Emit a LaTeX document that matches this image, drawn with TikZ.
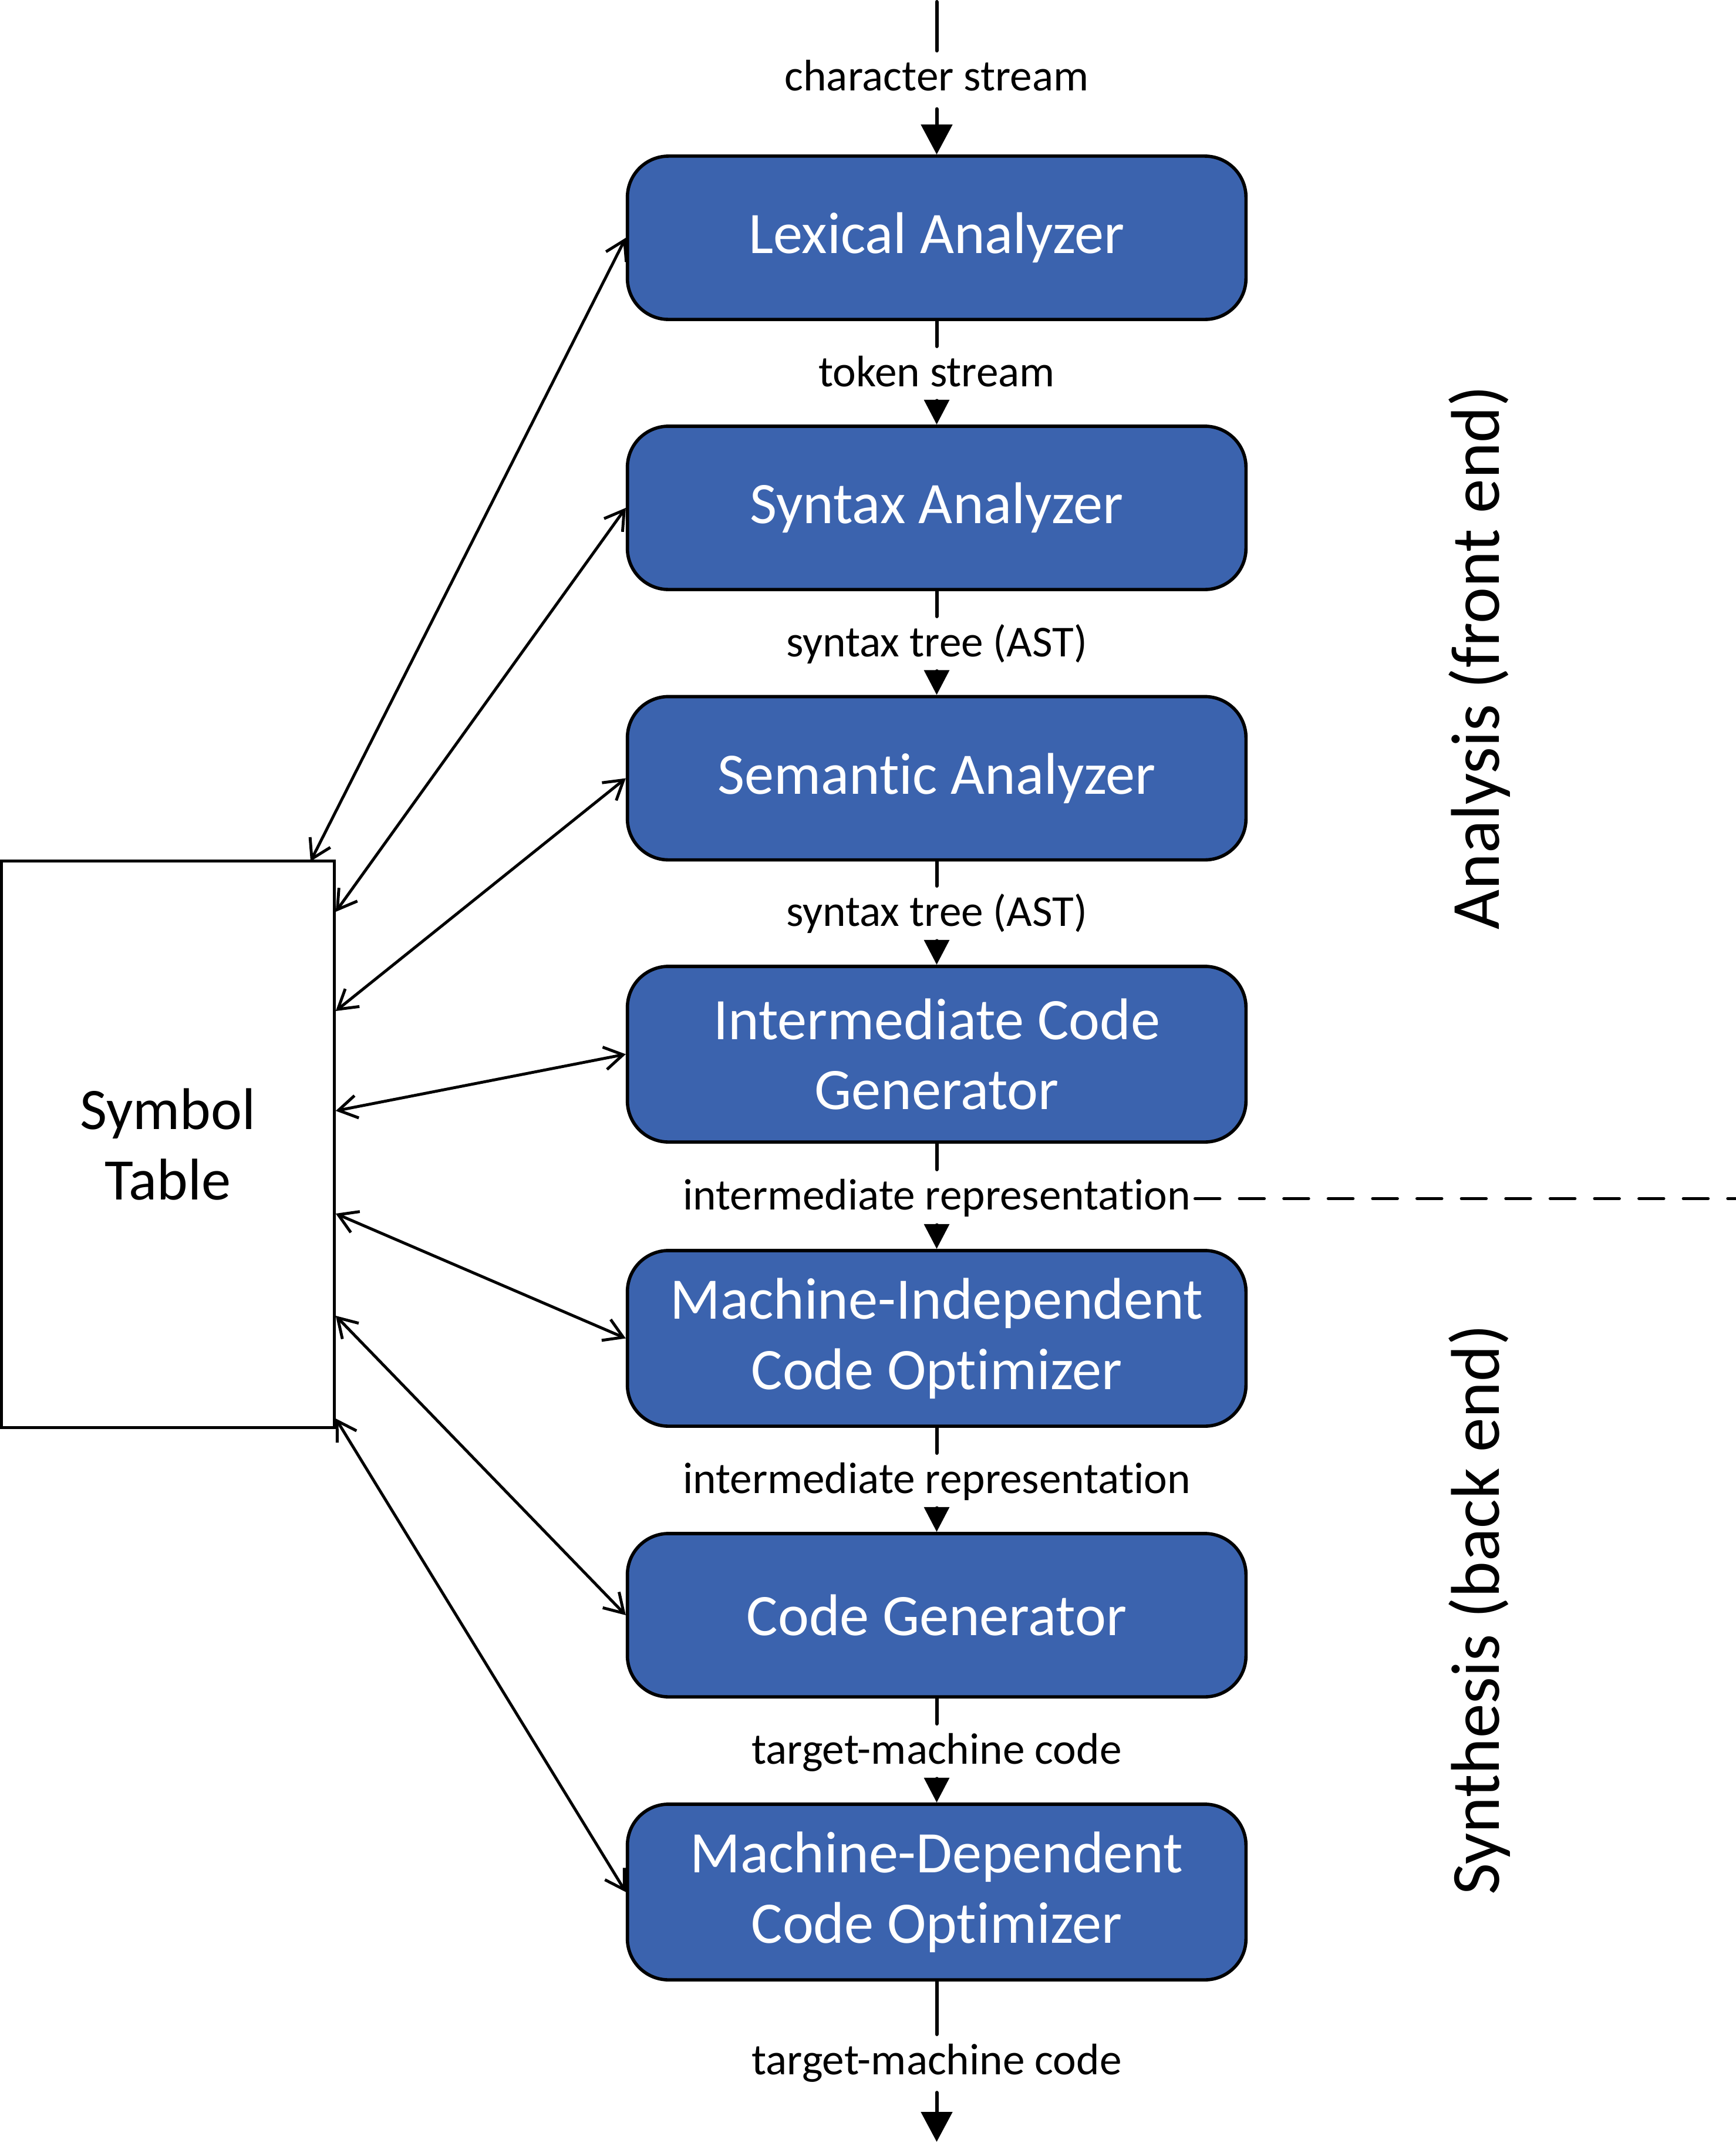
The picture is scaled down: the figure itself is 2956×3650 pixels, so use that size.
\documentclass[tikz,border=0pt]{standalone}
\usepackage{fontspec}
\setmainfont{Carlito}[Ligatures=NoCommon]
\usetikzlibrary{arrows.meta}
\definecolor{stageblue}{RGB}{59,99,174}

\begin{document}
\begin{tikzpicture}[x=0.01cm, y=-0.01cm, line cap=round,
    stage/.style={draw, line width=1.6pt, fill=stageblue, rounded corners=0.7cm,
        minimum width=10.53cm, minimum height=2.78cm, text=white, align=center,
        font=\fontsize{28.5pt}{34pt}\selectfont},
    stagetwo/.style={stage, minimum height=2.99cm},
    flowlabel/.style={fill=white, inner xsep=2pt, inner ysep=3.4pt,
        text height=15.8pt, text depth=5.2pt, font=\fontsize{21.4pt}{25pt}\selectfont},
    pipe/.style={line width=1.7pt},
    flow/.style={pipe, -{Triangle[length=12pt,width=12pt]}},
    bigflow/.style={pipe, -{Triangle[length=14.5pt,width=15pt]}},
    link/.style={line width=1.4pt,
        {Straight Barb[length=9pt,width=11pt]}-{Straight Barb[length=9pt,width=11pt]}},
    phase/.style={rotate=90, font=\fontsize{33.4pt}{38pt}\selectfont}]

    \useasboundingbox (0,0) rectangle (2956,3650);

    % Phases
    \node[stage]    (lex) at (1595.5,405)    {Lexical Analyzer};
    \node[stage]    (syn) at (1595.5,865)    {Syntax Analyzer};
    \node[stage]    (sem) at (1595.5,1325.5) {Semantic Analyzer};
    \node[stagetwo] (icg) at (1595.5,1795.5) {Intermediate Code\\Generator};
    \node[stagetwo] (mio) at (1595.5,2279.5) {Machine-Independent\\Code Optimizer};
    \node[stage]    (cg)  at (1595.5,2751)   {Code Generator};
    \node[stagetwo] (mdo) at (1595.5,3222.5) {Machine-Dependent\\Code Optimizer};

    % Stream labels
    \node[flowlabel] (l0) at (1595.5,136)    {character stream};
    \node[flowlabel] (l1) at (1595.5,639.5)  {token stream};
    \node[flowlabel] (l2) at (1595.5,1099.5) {syntax tree (AST)};
    \node[flowlabel] (l3) at (1595.5,1558.5) {syntax tree (AST)};
    \node[flowlabel] (l4) at (1595.5,2041.5) {intermediate representation};
    \node[flowlabel] (l5) at (1595.5,2524.5) {intermediate representation};
    \node[flowlabel] (l6) at (1595.5,2985.5) {target-machine code};
    \node[flowlabel] (l7) at (1595.5,3514.5) {target-machine code};

    \coordinate (src)  at (1595.5,3);
    \coordinate (sink) at (1595.5,3648);
    \coordinate (rim)  at (2956,0);

    % Main flow
    \draw[pipe] (src) -- (l0);
    \draw[bigflow] (l0) -- (lex);
    \draw[pipe] (lex) -- (l1);
    \draw[flow] (l1) -- (syn);
    \draw[pipe] (syn) -- (l2);
    \draw[flow] (l2) -- (sem);
    \draw[pipe] (sem) -- (l3);
    \draw[flow] (l3) -- (icg);
    \draw[pipe] (icg) -- (l4);
    \draw[flow] (l4) -- (mio);
    \draw[pipe] (mio) -- (l5);
    \draw[flow] (l5) -- (cg);
    \draw[pipe] (cg) -- (l6);
    \draw[flow] (l6) -- (mdo);
    \draw[pipe] (mdo) -- (l7);
    \draw[bigflow] (l7) -- (sink);

    % Front end / back end split
    \draw[line width=1.5pt, dash pattern=on 12pt off 9.5pt] (l4.east) -- (l4.east -| rim);

    % Symbol table
    \node[draw, line width=1.5pt, minimum width=5.66cm, minimum height=9.64cm,
        align=center, font=\fontsize{28.5pt}{34pt}\selectfont] (sym) at (286,1949) {Symbol\\Table};

    \coordinate (t1) at (529,1467);
    \draw[link] (lex.west) -- (t1);
    \foreach \b/\y in {syn/1553, sem/1722, icg/1892, mio/2067, cg/2241, mdo/2416}
        \draw[link] (\b.west) -- (sym.east |- 0,\y);

    % Side captions
    \node[phase] (front) at (2520,1120) {Analysis (front end)};
    \node[phase] (back)  at (2520,2742) {Synthesis (back end)};

\end{tikzpicture}
\end{document}
